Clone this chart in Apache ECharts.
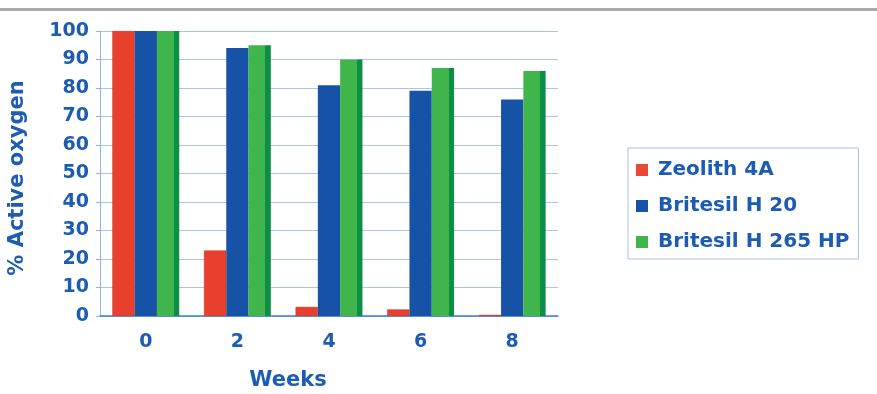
<!DOCTYPE html>
<html><head><meta charset="utf-8">
<script src="https://cdn.jsdelivr.net/npm/echarts@6/dist/echarts.min.js"></script>
<style>html,body{margin:0;padding:0;background:#fff}#c{width:877px;height:394px}</style>
</head><body><div id="c"></div>
<script>
const categories = ['0', '2', '4', '6', '8'];
const zeolith = [100, 23, 3.2, 2.3, 0.4];
const britesil20 = [100, 94, 81, 79, 76];
const britesil265 = [100, 95, 90, 87, 86];
const seriesNames = ['Zeolith 4A', 'Britesil H 20', 'Britesil H 265 HP'];

const txt = '#1d5cb3';
const font = '"DejaVu Sans", Verdana, sans-serif';
const legendColors = ['#ea4a35', '#1652a5', '#3fb54b'];
const chart = echarts.init(document.getElementById('c'));
chart.setOption({
  backgroundColor: '#ffffff',
  animation: false,
  grid: { left: 100, right: 319, top: 31, bottom: 78 },
  graphic: [
    { type: 'rect', left: 0, top: 8, shape: { width: 877, height: 3 }, style: { fill: '#ababab' } },
    { type: 'text', x: 18, y: 178, rotation: Math.PI / 2, style: { text: '% Active oxygen', fill: txt, font: 'bold 21px ' + font, align: 'center', verticalAlign: 'middle' } },
    { type: 'text', x: 288, y: 381, style: { text: 'Weeks', fill: txt, font: 'bold 21px ' + font, align: 'center', verticalAlign: 'middle' } }
  ],
  legend: {
    orient: 'vertical', left: 628, top: 148,
    padding: [12, 9, 7, 8], itemGap: 16,
    borderColor: '#a9c3ea', borderWidth: 1,
    itemWidth: 12, itemHeight: 12, icon: 'rect',
    textStyle: { color: txt, fontSize: 20, fontWeight: 'bold', fontFamily: font, padding: [0, 0, 0, 5] },
    data: seriesNames.map((n, i) => ({ name: n, itemStyle: { color: legendColors[i], borderWidth: 0 } }))
  },
  xAxis: {
    type: 'category', data: categories,
    axisLine: { lineStyle: { color: '#3f7fd0', width: 1.5 } },
    axisTick: { alignWithLabel: false, length: 5, lineStyle: { color: '#6f9fdc' } },
    axisLabel: { color: txt, fontSize: 19, fontWeight: 'bold', fontFamily: font, margin: 17 }
  },
  yAxis: {
    type: 'value', min: 0, max: 100, interval: 10,
    axisLine: { show: true, lineStyle: { color: '#8fb3e6' } },
    axisTick: { show: true, length: 4, lineStyle: { color: '#8fb3e6' } },
    splitLine: { lineStyle: { color: '#a9c6ee', width: 1 } },
    axisLabel: { color: txt, fontSize: 19, fontWeight: 'bold', fontFamily: font, margin: 11 }
  },
  series: [
    { name: seriesNames[0], type: 'bar', data: zeolith, barGap: '0%', barCategoryGap: '27%',
      itemStyle: { color: '#e8402d', borderColor: '#c8301f', borderWidth: 0.5 } },
    { name: seriesNames[1], type: 'bar', data: britesil20, barGap: '0%', barCategoryGap: '27%',
      itemStyle: { color: '#1652a5' } },
    { name: seriesNames[2], type: 'bar', data: britesil265, barGap: '0%', barCategoryGap: '27%',
      itemStyle: { color: new echarts.graphic.LinearGradient(0, 0, 1, 0, [
        { offset: 0, color: '#3fb54b' }, { offset: 0.76, color: '#3fb54b' },
        { offset: 0.76, color: '#0b8f45' }, { offset: 1, color: '#0b8f45' }]) } }
  ]
});
</script></body></html>
